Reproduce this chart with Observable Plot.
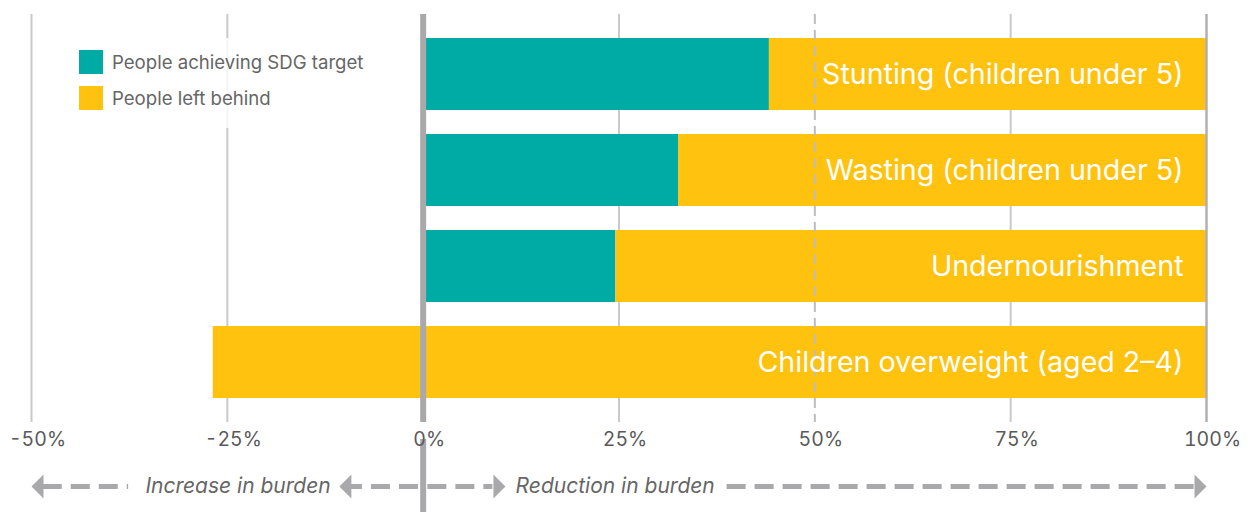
<!DOCTYPE html>
<html>
<head>
<meta charset="utf-8">
<script src="https://cdn.jsdelivr.net/npm/d3@7"></script>
<script src="https://cdn.jsdelivr.net/npm/@observablehq/plot@0.6"></script>
<style>
  body { margin: 0; background: #fff; font-family: Inter, sans-serif; }
  #chart { position: relative; width: 1259px; height: 512px; }
  #chart svg { display: block; }
  .legend {
    position: absolute; left: 62px; top: 38px; width: 330px; height: 90px;
    background: rgba(255, 255, 255, 0.82); box-sizing: border-box; padding: 12px 0 0 17px;
  }
  .legend .item { display: flex; align-items: center; height: 24px; margin-bottom: 12px; font-size: 18.6px; color: #666; }
  .legend .sw { width: 24px; height: 24px; margin-right: 9px; flex: none; }
</style>
</head>
<body>
<div id="chart"></div>
<script>
// Indicators (top to bottom) and the share of progress towards the SDG target (%)
const categories = [
  "Stunting (children under 5)",
  "Wasting (children under 5)",
  "Undernourishment",
  "Children overweight (aged 2–4)"
];
const achieved = [44.2, 32.6, 24.6, -26.8];

const seriesNames = ["People achieving SDG target", "People left behind"];
const seriesColors = ["#00aba5", "#fec20f"];

const xDomain = [-50, 100];
const xTicks = [-50, -25, 0, 25, 50, 75, 100];

// Direction annotations below the axis
const burdenLabels = ["Increase in burden", "Reduction in burden"];
const burdenLabelAt = [-11.8, 11.8];
const burdenArrowsLeft = [-50, -10.7];
const burdenArrowsRight = [10.5, 100];
const burdenDashes = [[-48.5, -37.6], [-0.6, -9.3], [0.6, 8.9], [38.8, 98.5]];

// Teal from 0 to the achieved share; yellow from there to 100%
const barRows = categories.flatMap((c, i) => [
  {category: c, series: seriesNames[0], x1: 0, x2: Math.max(achieved[i], 0)},
  {category: c, series: seriesNames[1], x1: achieved[i], x2: xDomain[1]}
]).filter(d => d.x2 > d.x1);

const W = 1259;
const gridColor = "#c9c9c9";
const arrowColor = "#a9a9ab";
const font = "Inter, sans-serif";

const main = Plot.plot({
  width: W,
  height: 460,
  marginTop: 14,
  marginBottom: 38,
  marginLeft: 31,
  marginRight: 53,
  style: {fontFamily: font, background: "transparent"},
  x: {domain: xDomain, nice: false},
  y: {domain: categories, padding: 0.25, axis: null},
  color: {domain: seriesNames, range: seriesColors},
  marks: [
    Plot.ruleX(xTicks.filter(t => t !== 0 && t !== 50 && t !== 100), {stroke: gridColor, strokeWidth: 2}),
    Plot.barX(barRows, {y: "category", x1: "x1", x2: "x2", fill: "series"}),
    Plot.ruleX([50], {stroke: "#bdbdbd", strokeWidth: 2, strokeDasharray: "10,6"}),
    Plot.ruleX([100], {stroke: "#b0b0b2", strokeWidth: 2.5}),
    Plot.text(categories, {
      x: () => xDomain[1], y: d => d, text: d => d,
      textAnchor: "end", dx: -23, fill: "white", fontSize: 28.6, fontFamily: font
    }),
    Plot.ruleX([0], {stroke: arrowColor, strokeWidth: 6}),
    Plot.ruleX([0], {stroke: arrowColor, strokeWidth: 6, insetTop: 425, insetBottom: -38}),
    Plot.axisX(xTicks, {
      tickSize: 0, tickPadding: 10, fontSize: 19.5, fill: "#5a5a5a", dx: 6,
      tickFormat: d => d + "%", label: null
    })
  ]
});

const headRight = {draw(ctx) { ctx.moveTo(0, 0); ctx.lineTo(-12, -12); ctx.lineTo(-12, 12); ctx.closePath(); }};
const headLeft = {draw(ctx) { ctx.moveTo(0, 0); ctx.lineTo(12, -12); ctx.lineTo(12, 12); ctx.closePath(); }};

const labelStyle = {y: () => 0.5, text: d => d, fontStyle: "italic", fontSize: 21, fill: "#666", fontFamily: font};

const arrows = Plot.plot({
  width: W,
  height: 52,
  marginTop: 0,
  marginBottom: 0,
  marginLeft: 31,
  marginRight: 53,
  style: {fontFamily: font, background: "transparent"},
  x: {domain: xDomain, nice: false, axis: null},
  y: {domain: [0, 1], axis: null},
  marks: [
    Plot.ruleY(burdenDashes, {
      x1: d => d[0], x2: d => d[1], y: () => 0.5,
      stroke: arrowColor, strokeWidth: 5, strokeDasharray: "19,9"
    }),
    Plot.dot(burdenArrowsLeft, {x: d => d, y: () => 0.5, symbol: headLeft, fill: arrowColor, stroke: "none"}),
    Plot.dot(burdenArrowsRight, {x: d => d, y: () => 0.5, symbol: headRight, fill: arrowColor, stroke: "none"}),
    Plot.text([burdenLabels[0]], {...labelStyle, x: () => burdenLabelAt[0], textAnchor: "end"}),
    Plot.text([burdenLabels[1]], {...labelStyle, x: () => burdenLabelAt[1], textAnchor: "start"}),
    Plot.ruleX([0], {stroke: arrowColor, strokeWidth: 6})
  ]
});

const chart = document.getElementById("chart");
chart.append(main, arrows);

// Legend overlaid on the left of the plot area
const legend = document.createElement("div");
legend.className = "legend";
seriesNames.forEach((name, i) => {
  const item = document.createElement("div");
  item.className = "item";
  const sw = document.createElement("span");
  sw.className = "sw";
  sw.style.background = seriesColors[i];
  const label = document.createElement("span");
  label.textContent = name;
  item.append(sw, label);
  legend.append(item);
});
chart.append(legend);
</script>
</body>
</html>
